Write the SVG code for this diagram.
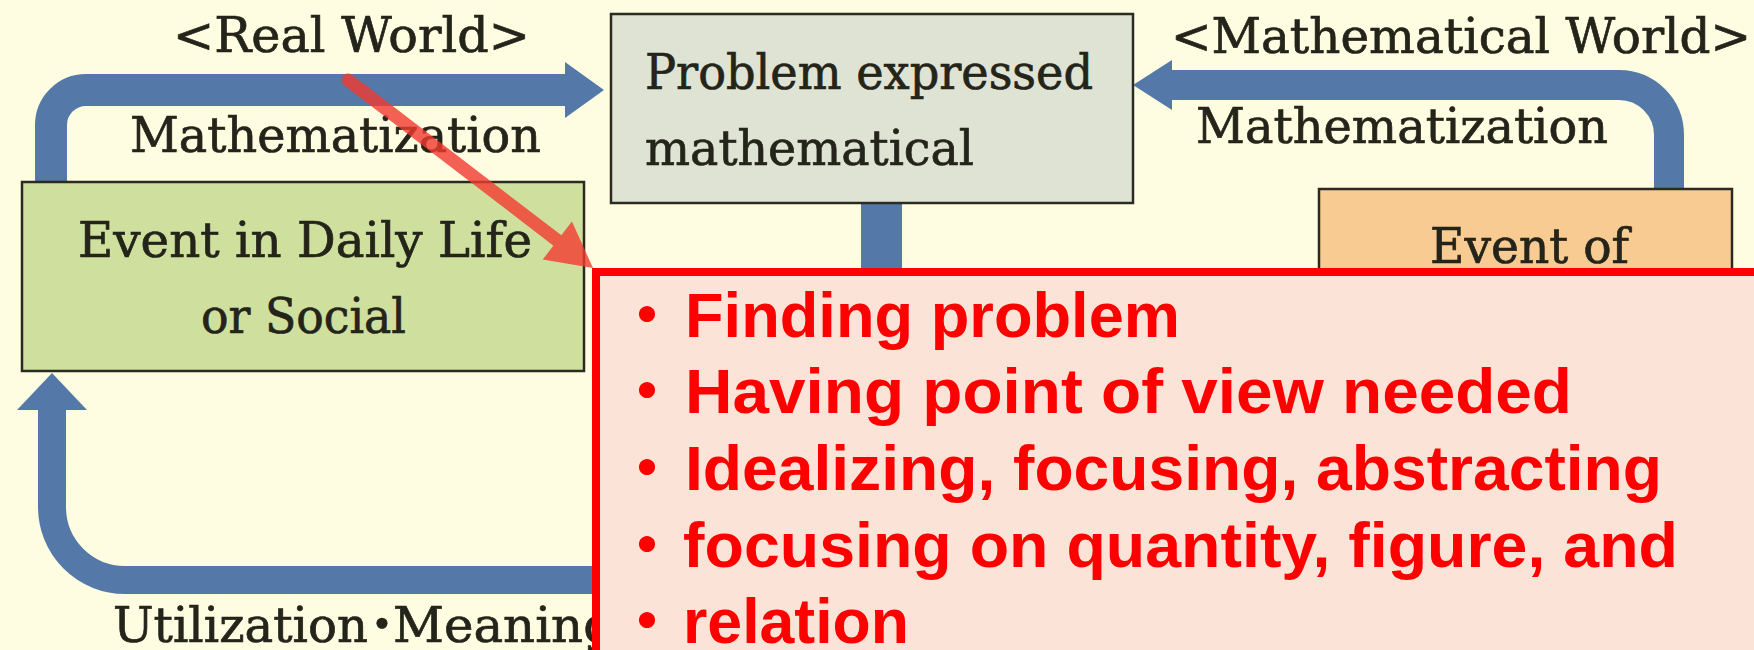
<svg xmlns="http://www.w3.org/2000/svg" width="1754" height="650" viewBox="0 0 1754 650">
<defs>
<style>
.bg{fill:#FFFDE1}
.band{fill:none;stroke:#5479A9;stroke-linejoin:round}
.head{fill:#5479A9}
.box{stroke:#2B2B22;stroke-width:2.5}
.serif{font-family:"DejaVu Serif","Liberation Serif","Noto Sans CJK JP",serif;font-size:49px;fill:#24241A;stroke:#24241A;stroke-width:0.7}
.red{font-family:"Liberation Sans",Arial,sans-serif;font-weight:700;font-size:63px;fill:#FF0000}
.bullet{font-family:"Noto Sans CJK JP",sans-serif;font-weight:700;font-size:63px;fill:#FF0000}
</style>
</defs>
<rect class="bg" x="0" y="0" width="1754" height="650"/>

<g id="connectors">
  <path class="band" stroke-width="32" d="M51 184 V125 A35 35 0 0 1 86 90 H568"/>
  <polygon class="head" points="565,62 604,90 565,118"/>
  <path class="band" stroke-width="30" d="M1669 191 V135 A50 50 0 0 0 1619 85 H1170"/>
  <polygon class="head" points="1172,60 1133,85 1172,110"/>
  <path class="band" stroke-width="28" d="M720 580 H125 A73 73 0 0 1 52 507 V408"/>
  <polygon class="head" points="17,410 52,373 87,410"/>
  <rect class="head" x="861" y="200" width="41" height="80"/>
</g>

<g id="label-real-world">
  <text class="serif" x="173" y="52" textLength="357" lengthAdjust="spacingAndGlyphs">&lt;Real World&gt;</text>
</g>
<g id="label-math-world">
  <text class="serif" x="1171" y="53" textLength="580" lengthAdjust="spacingAndGlyphs">&lt;Mathematical World&gt;</text>
</g>
<g id="label-mathematization-left">
  <text class="serif" x="130" y="152" textLength="411" lengthAdjust="spacingAndGlyphs">Mathematization</text>
</g>
<g id="label-mathematization-right">
  <text class="serif" x="1196" y="143" textLength="412" lengthAdjust="spacingAndGlyphs">Mathematization</text>
</g>
<g id="label-utilization">
  <text class="serif" y="642"><tspan x="113" textLength="255" lengthAdjust="spacingAndGlyphs">Utilization</tspan><tspan x="382" text-anchor="middle">・</tspan><tspan x="393" textLength="222" lengthAdjust="spacingAndGlyphs">Meaning</tspan></text>
</g>

<g id="node-problem">
  <rect class="box" x="611" y="14" width="522" height="189" fill="#DEE3D3"/>
  <text class="serif" x="645" y="89" textLength="448" lengthAdjust="spacingAndGlyphs">Problem expressed</text>
  <text class="serif" x="645" y="165" textLength="329" lengthAdjust="spacingAndGlyphs">mathematical</text>
</g>

<g id="node-daily-life">
  <rect class="box" x="22" y="182" width="562" height="189" fill="#CFE09E"/>
  <text class="serif" x="78" y="257" textLength="454" lengthAdjust="spacingAndGlyphs">Event in Daily Life</text>
  <text class="serif" x="201" y="333" textLength="205" lengthAdjust="spacingAndGlyphs">or Social</text>
</g>

<g id="node-event-of">
  <rect class="box" x="1319" y="189" width="413" height="200" fill="#F8CB92"/>
  <text class="serif" x="1430" y="263" textLength="199" lengthAdjust="spacingAndGlyphs">Event of</text>
</g>

<g id="node-callout">
  <rect x="596" y="272" width="1200" height="450" fill="#FBE4D7" stroke="#FF0000" stroke-width="8"/>
  <text class="bullet" x="647" y="337" text-anchor="middle">・</text>
  <text class="red" x="685" y="337" textLength="495" lengthAdjust="spacingAndGlyphs">Finding problem</text>
  <text class="bullet" x="647" y="413" text-anchor="middle">・</text>
  <text class="red" x="685" y="413" textLength="887" lengthAdjust="spacingAndGlyphs">Having point of view needed</text>
  <text class="bullet" x="647" y="490" text-anchor="middle">・</text>
  <text class="red" x="685" y="490" textLength="977" lengthAdjust="spacingAndGlyphs">Idealizing, focusing, abstracting</text>
  <text class="bullet" x="647" y="567" text-anchor="middle">・</text>
  <text class="red" x="683" y="567" textLength="995" lengthAdjust="spacingAndGlyphs">focusing on quantity, figure, and</text>
  <text class="bullet" x="647" y="643" text-anchor="middle">・</text>
  <text class="red" x="683" y="643" textLength="226" lengthAdjust="spacingAndGlyphs">relation</text>
</g>

<g id="pointer-arrow" opacity="0.8">
  <line x1="348" y1="80" x2="562" y2="244" stroke="#F23A30" stroke-width="13" stroke-linecap="round"/>
  <polygon points="593,268 542.7,259.6 571.9,221.6" fill="#F23A30"/>
</g>
</svg>
